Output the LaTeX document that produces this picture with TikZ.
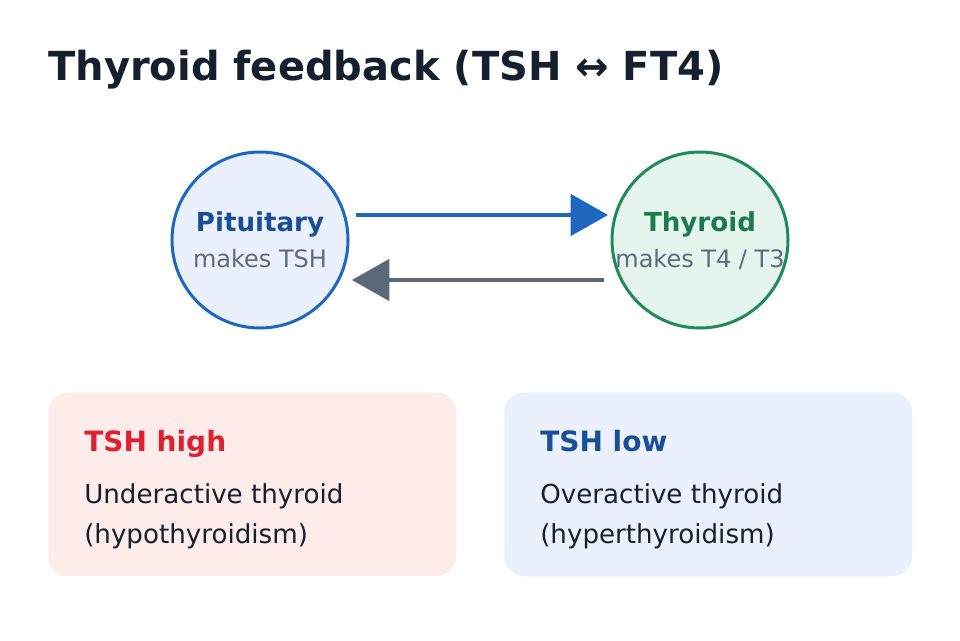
\documentclass[tikz,border=0pt]{standalone}
\usepackage{fontspec}
\setmainfont{DejaVu Sans}
\usetikzlibrary{arrows.meta}
\definecolor{ink}{HTML}{15202E}
\definecolor{blueS}{HTML}{1E66C0}
\definecolor{blueT}{HTML}{1A4F96}
\definecolor{greenS}{HTML}{1F8A5A}
\definecolor{greenT}{HTML}{1B7A4E}
\definecolor{grayA}{HTML}{5B6878}
\definecolor{grayT}{HTML}{5F6B7A}
\definecolor{pinkF}{HTML}{FDECEA}
\definecolor{blueF}{HTML}{EAF1FC}
\definecolor{greenF}{HTML}{E5F4EC}
\definecolor{redT}{HTML}{DC2230}
\begin{document}
\begin{tikzpicture}[x=0.75pt,y=-0.75pt,
  every node/.style={inner sep=0pt},
  circ/.style={circle,line width=2.25pt,minimum size=132pt,inner sep=0pt},
  arr/.style={line width=3pt,-{Triangle[length=28pt,width=31pt]}},
  box/.style={rounded corners=15pt,draw=none},
  bt/.style={anchor=base west,font=\bfseries\fontsize{21}{25}\selectfont},
  bd/.style={anchor=base west,font=\fontsize{19.6}{23}\selectfont,text=ink}]
\useasboundingbox (0,0) rectangle (960,640);
\fill[white] (0,0) rectangle (960,640);
\node[anchor=base west,text=ink,font=\bfseries\fontsize{30}{36}\selectfont] (title) at (48,80) {Thyroid feedback (TSH ↔ FT4)};
\node[circ,draw=blueS,fill=blueF] (pit) at (260,240) {};
\node[circ,draw=greenS,fill=greenF] (thy) at (700,240) {};
\node[anchor=base,text=blueT,font=\bfseries\fontsize{19.6}{23}\selectfont] (pitA) at (260,231) {Pituitary};
\node[anchor=base,text=grayT,font=\fontsize{18}{21}\selectfont] (pitB) at (260,267) {makes TSH};
\node[anchor=base,text=greenT,font=\bfseries\fontsize{19.6}{23}\selectfont] (thyA) at (700,231) {Thyroid};
\node[anchor=base,text=grayT,font=\fontsize{18}{21}\selectfont] (thyB) at (700,267) {makes T4 / T3};
\coordinate (a1s) at (356,215); \coordinate (a1e) at (608,215);
\coordinate (a2s) at (604,280); \coordinate (a2e) at (352,280);
\draw[arr,blueS] (a1s) -- (a1e);
\draw[arr,grayA] (a2s) -- (a2e);
\node[box,fill=pinkF,minimum width=306pt,minimum height=138pt,anchor=north west] (b1) at (48,392) {};
\node[box,fill=blueF,minimum width=306pt,minimum height=138pt,anchor=north west] (b2) at (504,392) {};
\node[bt,text=redT] (b1t) at (84,451) {TSH high};
\node[bd] (b1a) at (84,503) {Underactive thyroid};
\node[bd] (b1b) at (84,543) {(hypothyroidism)};
\node[bt,text=blueT] (b2t) at (540,451) {TSH low};
\node[bd] (b2a) at (540,503) {Overactive thyroid};
\node[bd] (b2b) at (540,543) {(hyperthyroidism)};
\end{tikzpicture}
\end{document}
